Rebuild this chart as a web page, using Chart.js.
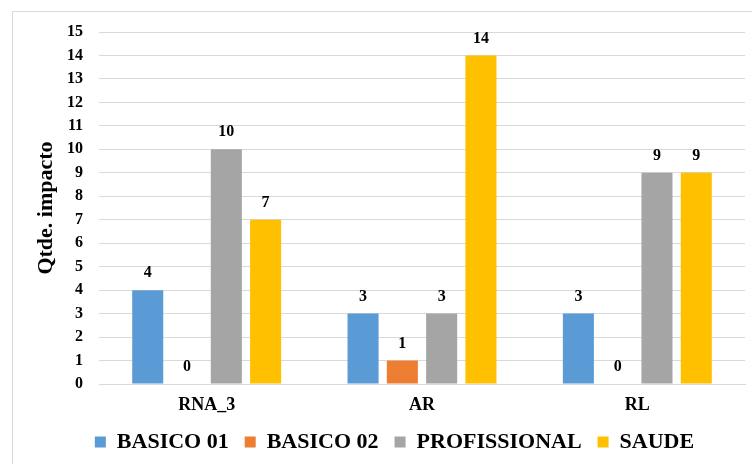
<!DOCTYPE html>
<html>
<head>
<meta charset="utf-8">
<script src="https://cdn.jsdelivr.net/npm/chart.js@4.4.1/dist/chart.umd.min.js"></script>
<style>
html,body{margin:0;padding:0;background:#fff;}
#wrap{width:752px;height:464px;position:relative;}
</style>
</head>
<body>
<div id="wrap"><canvas id="c" width="752" height="464"></canvas></div>
<script>
const categories = ["RNA_3", "AR", "RL"];
const seriesNames = ["BASICO 01", "BASICO 02", "PROFISSIONAL", "SAUDE"];
const basico01 = [4, 3, 3];
const basico02 = [0, 1, 0];
const profissional = [10, 3, 9];
const saude = [7, 14, 9];
const seriesColors = ["#5B9BD5", "#ED7D31", "#A5A5A5", "#FFC000"];
const yTitle = "Qtde. impacto";

const serif = "'Liberation Serif', 'Times New Roman', serif";

const borderPlugin = {
  id: 'outerBorder',
  beforeDraw(chart) {
    const ctx = chart.ctx;
    ctx.save();
    ctx.fillStyle = '#fff';
    ctx.fillRect(0, 0, chart.width, chart.height);
    ctx.strokeStyle = '#d9d9d9';
    ctx.lineWidth = 1;
    ctx.strokeRect(12.5, 11.5, 900, 900);
    ctx.restore();
  }
};

const legendShift = {
  id: 'legendShift',
  afterLayout(chart) {
    if (chart.legend) {
      chart.legend.left += 16;
      chart.legend.right += 16;
    }
  }
};

const labelPlugin = {
  id: 'valueLabels',
  afterDatasetsDraw(chart) {
    const ctx = chart.ctx;
    ctx.save();
    ctx.font = "bold 16px " + serif;
    ctx.fillStyle = '#000';
    ctx.textAlign = 'center';
    ctx.textBaseline = 'middle';
    chart.data.datasets.forEach((ds, i) => {
      const meta = chart.getDatasetMeta(i);
      meta.data.forEach((bar, j) => {
        ctx.fillText(String(ds.data[j]), bar.x, bar.y - 17);
      });
    });
    ctx.restore();
  }
};

const allSeries = [basico01, basico02, profissional, saude];

new Chart(document.getElementById('c'), {
  type: 'bar',
  data: {
    labels: categories,
    datasets: allSeries.map((d, i) => ({
      label: seriesNames[i],
      data: d,
      backgroundColor: seriesColors[i],
      borderWidth: 0,
      categoryPercentage: 0.73,
      barPercentage: 0.79
    }))
  },
  options: {
    responsive: false,
    animation: false,
    devicePixelRatio: 1,
    layout: { padding: { top: 32, left: 12, right: 7, bottom: 1 } },
    plugins: {
      legend: {
        position: 'bottom',
        labels: {
          boxWidth: 11,
          boxHeight: 11,
          padding: 16,
          color: '#000',
          font: { family: serif, size: 22, weight: 'bold' }
        }
      },
      tooltip: { enabled: false }
    },
    scales: {
      x: {
        grid: { display: false, drawTicks: false },
        border: { display: true, color: '#d9d9d9' },
        ticks: {
          color: '#000',
          padding: 11,
          font: { family: serif, size: 18, weight: 'bold' }
        },
        afterFit(scale) { scale.height = 31; }
      },
      y: {
        min: 0,
        max: 15,
        ticks: {
          stepSize: 1,
          color: '#000',
          padding: 16,
          font: { family: serif, size: 16, weight: 'bold' }
        },
        grid: { color: '#d9d9d9', drawTicks: false },
        border: { display: false },
        title: {
          display: true,
          text: yTitle,
          color: '#000',
          padding: { top: 21, bottom: 0 },
          font: { family: serif, size: 22, weight: 'bold' }
        },
        afterFit(scale) { scale.width = 87; }
      }
    }
  },
  plugins: [borderPlugin, legendShift, labelPlugin]
});
</script>
</body>
</html>
